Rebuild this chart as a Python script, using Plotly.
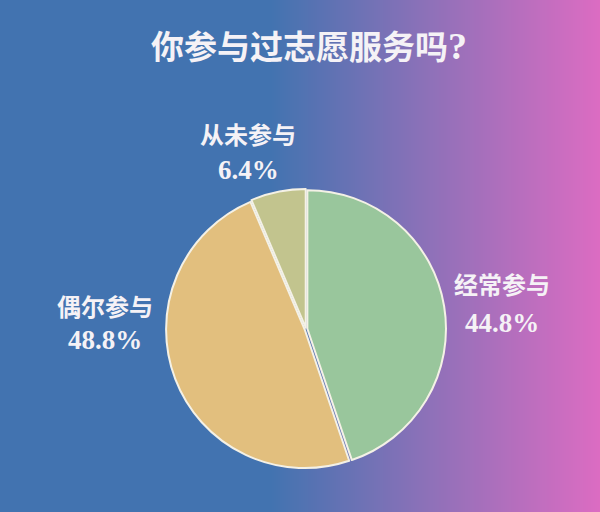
import plotly.graph_objects as go

# survey result: 你参与过志愿服务吗?
labels = ["经常参与", "偶尔参与", "从未参与"]
values = [44.8, 48.8, 6.4]
colors = ["#99c69c", "#e2bf7e", "#c2c48e"]

# outside label positions in pixels (name line, percent line)
label_x = [502, 105, 248]
name_y = [285, 307, 135]
pct_y = [323, 340, 170]

W, H = 600, 512
font_fam = "Liberation Serif, Noto Sans CJK SC"
txt_col = "#f5f2f6"

fig = go.Figure()

# gradient background drawn as a smoothed heatmap on its own axes
fig.add_trace(go.Heatmap(
    z=[[0, 1], [0, 1]], x=[0, W], y=[0, 1],
    colorscale=[[0, "#4273b0"], [0.45, "#4273b0"], [0.7, "#8a71b8"], [1, "#dc6cc2"]],
    zsmooth="best", showscale=False, hoverinfo="skip",
    xaxis="x2", yaxis="y2",
))

cx, cy, r = 306, 329, 140
fig.add_trace(go.Pie(
    labels=labels, values=values, sort=False, direction="clockwise", rotation=0,
    marker=dict(colors=colors, line=dict(color="#f4f1e6", width=2)),
    pull=[0.01, 0.01, 0.01],
    textinfo="none", hoverinfo="label+percent", showlegend=False,
    domain=dict(x=[(cx - r) / W, (cx + r) / W], y=[(H - cy - r) / H, (H - cy + r) / H]),
))

annotations = []
for lab, val, lx, ny, py_ in zip(labels, values, label_x, name_y, pct_y):
    annotations.append(dict(
        x=lx / W, y=1 - ny / H, xref="paper", yref="paper",
        text=f"<b>{lab}</b>", showarrow=False,
        font=dict(family=font_fam, size=24, color=txt_col),
        xanchor="center", yanchor="middle",
    ))
    annotations.append(dict(
        x=lx / W, y=1 - py_ / H, xref="paper", yref="paper",
        text=f"<b>{val:.1f}%</b>", showarrow=False,
        font=dict(family=font_fam, size=27, color=txt_col),
        xanchor="center", yanchor="middle",
    ))

annotations.append(dict(
    x=309 / W, y=1 - 46 / H, xref="paper", yref="paper",
    text="<b>你参与过志愿服务吗<span style='font-size:38px'>?</span></b>", showarrow=False,
    font=dict(family=font_fam, size=33, color=txt_col),
    xanchor="center", yanchor="middle",
))

fig.update_layout(
    width=W, height=H,
    margin=dict(l=0, r=0, t=0, b=0),
    paper_bgcolor="#4273b0", plot_bgcolor="rgba(0,0,0,0)",
    xaxis2=dict(domain=[0, 1], range=[0, W], visible=False, fixedrange=True),
    yaxis2=dict(domain=[0, 1], range=[0, 1], visible=False, fixedrange=True),
    annotations=annotations,
)

fig.write_html("out.html", config={"displayModeBar": False},
               post_script="document.body.style.margin='0';")
